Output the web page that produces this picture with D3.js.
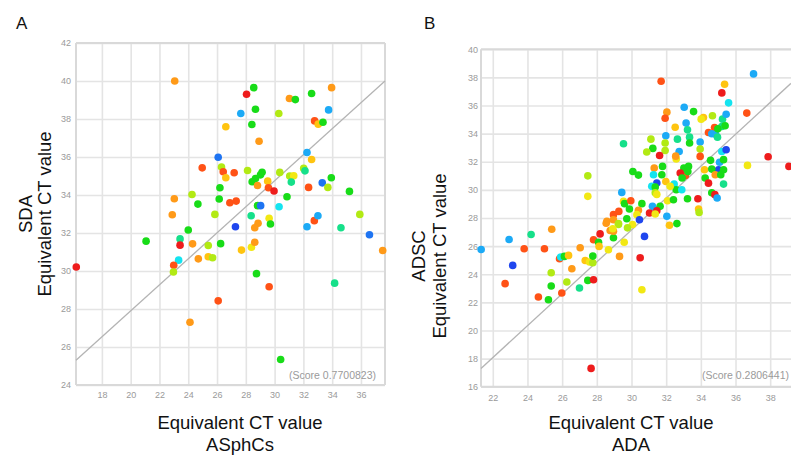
<!DOCTYPE html>
<html>
<head>
<meta charset="utf-8">
<script src="https://cdn.jsdelivr.net/npm/d3@7/dist/d3.min.js"></script>
<style>
  html, body { margin: 0; padding: 0; background: #fff; }
  svg { display: block; }
  .tick text { fill: #9a9a9a; font-family: "Liberation Sans", Arial, sans-serif; font-size: 9px; }
  .title { font-family: "Liberation Sans", Arial, sans-serif; fill: #111; }
</style>
</head>
<body>
<svg id="chart" width="791" height="457"></svg>
<script>
// ---------------- DATA ----------------
// colour codes: r red, o orange-red, O orange, Y gold, y yellow, l yellow-green,
// g green, s spring green, c cyan, b sky blue, m mid blue, B blue
const palette = {
  r: "#ee1c1c", o: "#ff5216", O: "#ff9a18", Y: "#ffc410", y: "#f2e814",
  l: "#b2ea14", g: "#18dc18", s: "#16e08a", c: "#14e4f0", b: "#1caaf6",
  m: "#1e74f2", B: "#1f46ee"
};

// Panel A: ASphCs (x) vs SDA (y)
const A_x = [23.06,28.55,28.05,32.57,33.96,31.03,31.44,28.67,27.65,30.29,33.75,32.78,33.03,33.36,26.61,28.42,28.92,26.08,32.25,32.57,
  24.97,26.31,26.43,26.61,27.19,28.12,29.13,28.67,28.44,29.02,28.81,29.52,29.57,29.96,30.36,31.05,31.33,31.16,32.02,32.11,
  32.36,33.31,33.70,33.94,35.20,35.92,30.86,30.31,28.81,29.03,28.37,24.26,23.03,24.67,26.20,26.15,26.89,27.33,22.89,25.85,
  29.62,29.71,28.85,28.62,27.28,32.76,33.01,32.25,34.61,24.00,36.59,37.51,16.22,21.07,23.43,23.43,24.30,23.33,22.99,22.97,
  24.70,25.39,25.39,25.69,26.25,27.70,28.39,28.62,28.74,29.62,26.08,24.12,30.42,34.17];
const A_y = [40.00,39.65,39.30,39.34,39.65,39.08,39.02,38.51,38.29,38.29,38.48,37.90,37.73,37.83,37.59,37.71,36.83,35.99,36.24,35.87,
  35.43,35.47,35.22,34.91,35.17,35.29,35.20,34.87,34.70,35.06,34.50,34.73,34.38,34.21,35.19,35.00,35.01,34.68,35.40,35.27,
  34.40,34.64,34.40,34.91,34.19,32.98,33.91,33.38,33.44,33.44,32.91,34.03,33.80,33.52,34.38,33.79,33.59,33.68,32.96,32.98,
  32.77,32.47,32.51,32.28,32.33,32.65,32.91,32.33,32.28,32.16,31.91,31.08,30.21,31.57,31.69,31.36,31.43,30.57,30.30,29.95,
  30.64,30.75,31.34,30.70,31.44,31.10,31.25,31.51,29.86,29.17,28.43,27.30,25.34,29.36];
const A_c = ["O","g","r","g","O","O","g","g","b","l","b","o","Y","g","Y","g","O","m","b","Y",
  "o","l","o","Y","o","l","g","g","g","g","O","Y","o","r","l","l","y","s","l","s",
  "o","m","l","g","g","l","g","c","g","m","s","l","O","g","g","g","o","o","O","l",
  "y","g","O","O","B","o","b","b","s","g","m","O","r","g","s","r","O","c","o","l",
  "O","Y","l","l","g","Y","y","O","g","o","o","O","g","s"];

// Panel B: ADA (x) vs ADSC (y)
const B_x = [37.04,31.71,35.37,35.21,35.60,33.04,33.58,32.04,31.94,34.15,34.02,34.67,35.25,35.46,36.65,33.15,32.52,33.23,34.79,35.21,
  35.40,34.44,34.63,34.85,34.96,31.98,32.65,31.12,33.35,33.35,33.96,29.54,31.23,30.88,31.94,31.94,32.75,33.96,31.62,33.96,
  35.21,35.46,32.58,32.55,34.56,35.08,35.31,35.02,34.21,34.63,35.31,34.83,35.15,33.02,33.29,33.11,32.81,32.92,34.25,34.44,
  35.31,36.69,37.88,39.08,27.48,27.48,30.08,30.40,31.31,31.27,31.79,31.75,31.46,31.17,31.37,31.98,32.46,32.58,32.90,32.23,
  31.37,31.46,34.63,34.81,34.94,29.44,29.54,29.60,29.96,29.88,30.60,31.21,31.65,32.08,32.42,33.23,33.83,33.87,33.90,30.40,
  30.31,31.04,31.46,31.37,32.04,30.46,32.19,32.62,28.96,29.27,28.58,28.96,29.25,30.06,25.40,21.33,22.94,24.21,23.81,24.98,
  23.15,22.71,24.63,25.21,25.37,25.37,25.98,26.27,26.56,25.85,25.92,26.13,26.37,27.04,27.00,27.48,27.81,27.33,27.58,27.77,
  27.77,27.81,28.10,28.13,28.19,28.67,28.96,29.31,29.58,29.77,29.25,28.54,28.77,28.96,30.50,30.75,30.60,27.67,29.73,28.92,
  33.25,34.98];
const B_y = [38.25,37.73,37.51,36.90,36.19,35.88,35.57,35.53,35.10,35.15,35.03,35.27,35.03,35.38,35.46,34.75,34.46,34.27,34.44,34.51,
  34.56,34.08,33.99,33.96,33.75,33.85,33.61,33.61,33.75,33.33,33.40,33.28,32.95,32.69,33.33,32.80,32.73,32.90,32.45,32.38,
  32.73,32.85,32.20,32.40,32.10,31.97,32.15,31.43,31.43,31.48,31.43,31.08,31.08,31.55,31.67,31.03,31.20,30.84,30.84,30.48,
  30.41,31.74,32.36,31.67,31.00,29.54,31.31,31.05,31.55,31.08,31.67,31.08,30.49,30.25,30.20,30.60,30.41,30.01,30.01,30.25,
  29.80,29.68,29.80,29.66,29.42,29.82,29.18,29.02,29.23,28.64,29.02,28.83,28.83,29.23,29.30,29.37,29.37,28.64,28.40,28.55,
  28.24,28.36,28.52,28.28,28.12,27.88,27.48,27.60,28.24,28.47,27.76,27.88,27.60,27.53,27.20,25.76,26.47,26.83,25.81,25.81,
  24.63,23.33,22.38,22.19,23.16,24.11,22.67,23.45,24.39,25.10,25.22,25.27,25.34,25.88,23.02,23.56,23.61,24.98,24.87,24.82,
  25.29,26.45,26.28,25.98,26.87,25.74,26.59,25.27,26.28,27.30,27.54,27.63,27.11,27.06,25.17,26.69,22.90,17.30,27.95,27.24,
  31.30,34.34];
const B_c = ["b","o","Y","r","c","b","g","O","o","Y","y","l","s","b","o","b","Y","s","o","s",
  "g","o","b","b","s","b","s","l","s","g","b","s","g","l","l","l","b","l","r","o",
  "c","B","y","O","g","b","g","B","Y","g","g","O","g","g","g","o","r","g","g","r",
  "s","y","r","r","l","y","g","g","O","c","g","g","B","c","g","Y","c","g","c","y",
  "l","y","g","r","b","b","y","g","o","g","g","b","g","y","g","g","r","Y","l","O",
  "y","r","r","y","b","B","Y","g","o","o","O","O","l","y","O","b","b","s","o","o",
  "B","o","o","g","g","l","o","l","O","o","c","g","Y","O","s","g","r","Y","y","l",
  "g","o","g","Y","r","y","g","O","y","l","l","O","O","O","r","B","y","r","g","y",
  "g","g"];

// axis ticks
const A_xTicks = [18,20,22,24,26,28,30,32,34,36];
const A_yTicks = [24,26,28,30,32,34,36,38,40,42];
const B_xTicks = [22,24,26,28,30,32,34,36,38];
const B_yTicks = [16,18,20,22,24,26,28,30,32,34,36,38,40];

// reference lines (end points in data units)
const A_line = [[16.2, 25.3], [37.67, 40.0]];
const B_line = [[21.32, 17.3], [39.2, 37.58]];

const A_score = "(Score 0.7700823)";
const B_score = "(Score 0.2806441)";

// ---------------- DRAW ----------------
const svg = d3.select("#chart");

function panel(cfg) {
  const x = d3.scaleLinear().domain(cfg.xDomain).range(cfg.xRange);
  const y = d3.scaleLinear().domain(cfg.yDomain).range(cfg.yRange);
  const g = svg.append("g");
  const [x0, x1] = cfg.xRange, [y0, y1] = cfg.yRange; // y0 bottom, y1 top

  const xAxis = d3.axisBottom(x).tickValues(cfg.xTicks).tickFormat(d3.format("d"))
    .tickSizeInner(-(y0 - y1)).tickSizeOuter(0).tickPadding(cfg.xPad);
  const yAxis = d3.axisLeft(y).tickValues(cfg.yTicks).tickFormat(d3.format("d"))
    .tickSizeInner(-(x1 - x0)).tickSizeOuter(0).tickPadding(cfg.yPad);

  const gx = g.append("g").attr("transform", `translate(0,${y0})`).call(xAxis);
  const gy = g.append("g").attr("transform", `translate(${x0},0)`).call(yAxis);
  [gx, gy].forEach(a => {
    a.select(".domain").remove();
    a.selectAll(".tick line").attr("stroke", "#e4e4e4").attr("stroke-width", 1.6);
  });

  const bc = "#d9d9d9";
  g.append("line").attr("x1", x0).attr("x2", x1).attr("y1", y1).attr("y2", y1).attr("stroke", bc).attr("stroke-width", 2);
  g.append("line").attr("x1", x0).attr("x2", x0).attr("y1", y1).attr("y2", y0).attr("stroke", bc).attr("stroke-width", 2);
  g.append("line").attr("x1", x0).attr("x2", x1).attr("y1", y0).attr("y2", y0).attr("stroke", bc).attr("stroke-width", 2);
  if (cfg.rightBorder)
    g.append("line").attr("x1", x1).attr("x2", x1).attr("y1", y1).attr("y2", y0).attr("stroke", bc).attr("stroke-width", 2);

  g.append("line")
    .attr("x1", x(cfg.line[0][0])).attr("y1", y(cfg.line[0][1]))
    .attr("x2", x(cfg.line[1][0])).attr("y2", y(cfg.line[1][1]))
    .attr("stroke", "#b4b4b4").attr("stroke-width", 1.3);

  const data = cfg.xs.map((v, i) => ({ x: v, y: cfg.ys[i], c: cfg.cs[i] }));
  g.append("g").selectAll("circle").data(data).join("circle")
    .attr("cx", d => x(d.x)).attr("cy", d => y(d.y)).attr("r", 3.8)
    .attr("fill", d => palette[d.c]);

  g.append("text").attr("x", cfg.scorePos[0]).attr("y", cfg.scorePos[1])
    .attr("text-anchor", cfg.scoreAnchor)
    .style("font-family", "Liberation Sans, Arial, sans-serif").style("font-size", "10.5px")
    .attr("fill", "#9a9a9a").text(cfg.score);

  g.append("text").attr("class", "title").attr("x", cfg.xTitleX).attr("y", 429)
    .attr("text-anchor", "middle").style("font-size", "18.5px").text("Equivalent CT value");
  g.append("text").attr("class", "title").attr("x", cfg.xTitleX).attr("y", 451)
    .attr("text-anchor", "middle").style("font-size", "18.5px").text(cfg.xName);

  g.append("text").attr("class", "title")
    .attr("transform", `translate(${cfg.yName1X},${cfg.yTitleY}) rotate(-90)`)
    .attr("text-anchor", "middle").style("font-size", "18.5px").text(cfg.yName);
  g.append("text").attr("class", "title")
    .attr("transform", `translate(${cfg.yName2X},${cfg.yTitleY}) rotate(-90)`)
    .attr("text-anchor", "middle").style("font-size", "18.5px").text("Equivalent CT value");

  g.append("text").attr("class", "title").attr("x", cfg.labelPos[0]).attr("y", cfg.labelPos[1])
    .style("font-size", "17px").text(cfg.label);
}

panel({
  xs: A_x, ys: A_y, cs: A_c,
  xDomain: [16.2, 37.67], xRange: [76, 385],
  yDomain: [24, 42], yRange: [385, 43],
  xTicks: A_xTicks, yTicks: A_yTicks, xPad: 7, yPad: 5,
  rightBorder: true, line: A_line,
  score: A_score, scorePos: [376, 379], scoreAnchor: "end",
  xTitleX: 240, xName: "ASphCs",
  yName: "SDA", yName1X: 32, yName2X: 51, yTitleY: 214,
  label: "A", labelPos: [16, 29]
});

panel({
  xs: B_x, ys: B_y, cs: B_c,
  xDomain: [21.32, 39.2], xRange: [481, 791],
  yDomain: [16, 40], yRange: [386.7, 49.3],
  xTicks: B_xTicks, yTicks: B_yTicks, xPad: 8, yPad: 3,
  rightBorder: false, line: B_line,
  score: B_score, scorePos: [702, 379], scoreAnchor: "start",
  xTitleX: 631, xName: "ADA",
  yName: "ADSC", yName1X: 425, yName2X: 446, yTitleY: 256,
  label: "B", labelPos: [424, 29]
});
</script>
</body>
</html>
